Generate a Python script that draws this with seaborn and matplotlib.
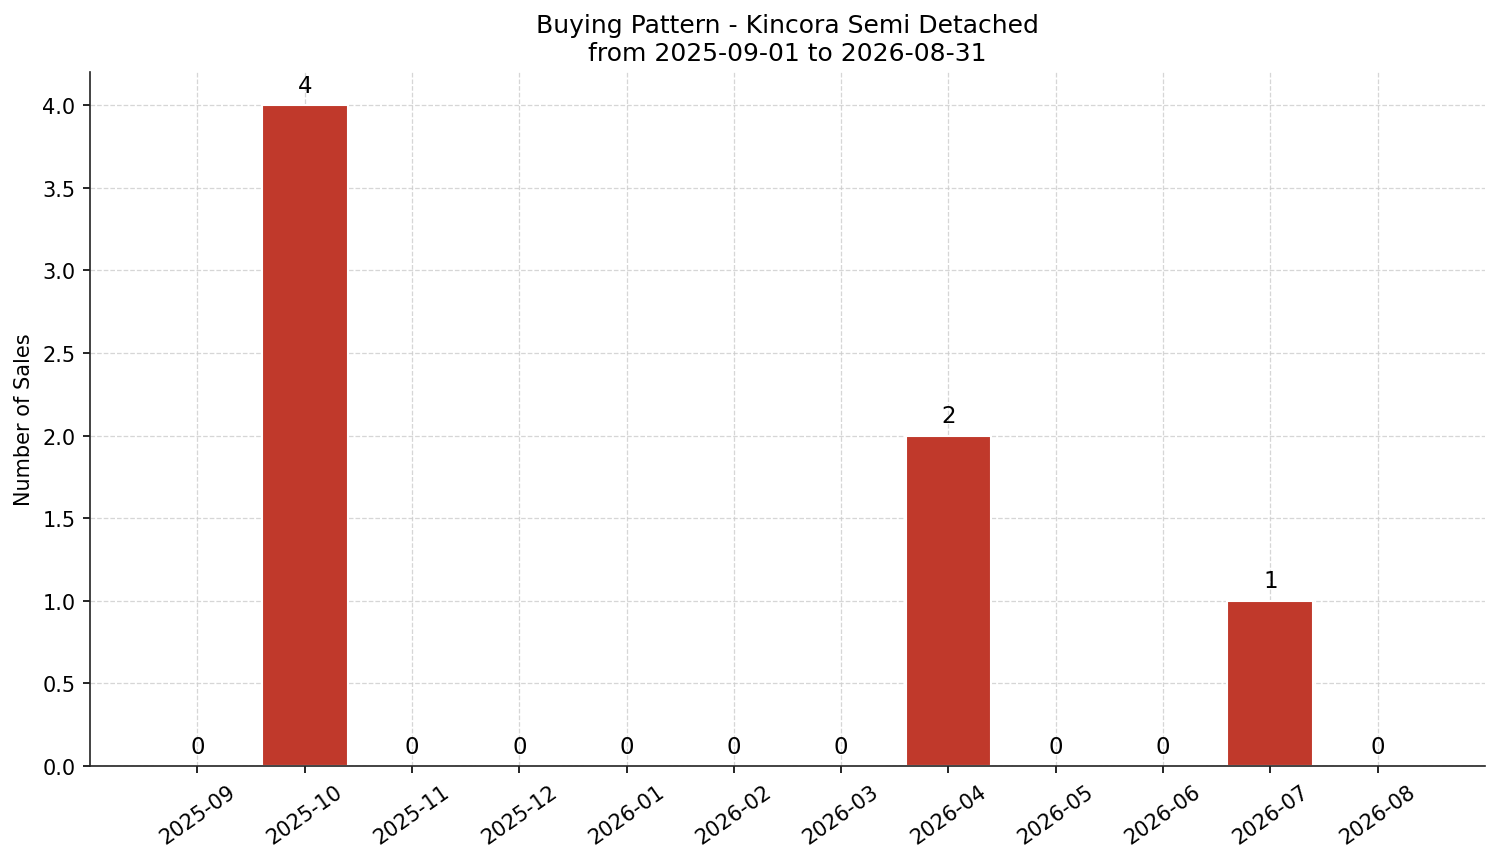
import matplotlib
matplotlib.use("Agg")
import matplotlib.pyplot as plt
import seaborn as sns
import pandas as pd

# Data
months = ["2025-09", "2025-10", "2025-11", "2025-12", "2026-01", "2026-02",
          "2026-03", "2026-04", "2026-05", "2026-06", "2026-07", "2026-08"]
sales = [0, 4, 0, 0, 0, 0, 0, 2, 0, 0, 1, 0]

df = pd.DataFrame({"month": months, "sales": sales})

sns.set_style("ticks", rc={"text.color": "black", "axes.labelcolor": "black",
                           "xtick.color": "black", "ytick.color": "black",
                           "axes.edgecolor": "#222222"})
plt.rcParams["font.family"] = ["DejaVu Sans"]

fig, ax = plt.subplots(figsize=(10.007, 5.753), dpi=150)
sns.barplot(data=df, x="month", y="sales", color="#c0392b", saturation=1,
            width=0.8, ax=ax)

for i, v in enumerate(sales):
    ax.text(i, v + 0.05, str(v), ha="center", va="bottom", fontsize=11)

ax.set_xlim(-1, 12)
ax.set_ylim(0, 4.2)
ax.grid(True, linestyle="--", color="#cccccc", linewidth=0.6, alpha=0.8)
for p in ax.patches:
    p.set_zorder(1)
ax.tick_params(axis="x", rotation=35)
for lbl in ax.get_xticklabels():
    lbl.set_ha("center")

ax.set_title("Buying Pattern - Kincora Semi Detached\nfrom 2025-09-01 to 2026-08-31",
             fontsize=12)
ax.set_xlabel("")
ax.set_ylabel("Number of Sales")
sns.despine(ax=ax)

fig.subplots_adjust(left=0.06, right=0.9893, top=0.9154, bottom=0.1112)
plt.savefig("out.png")
